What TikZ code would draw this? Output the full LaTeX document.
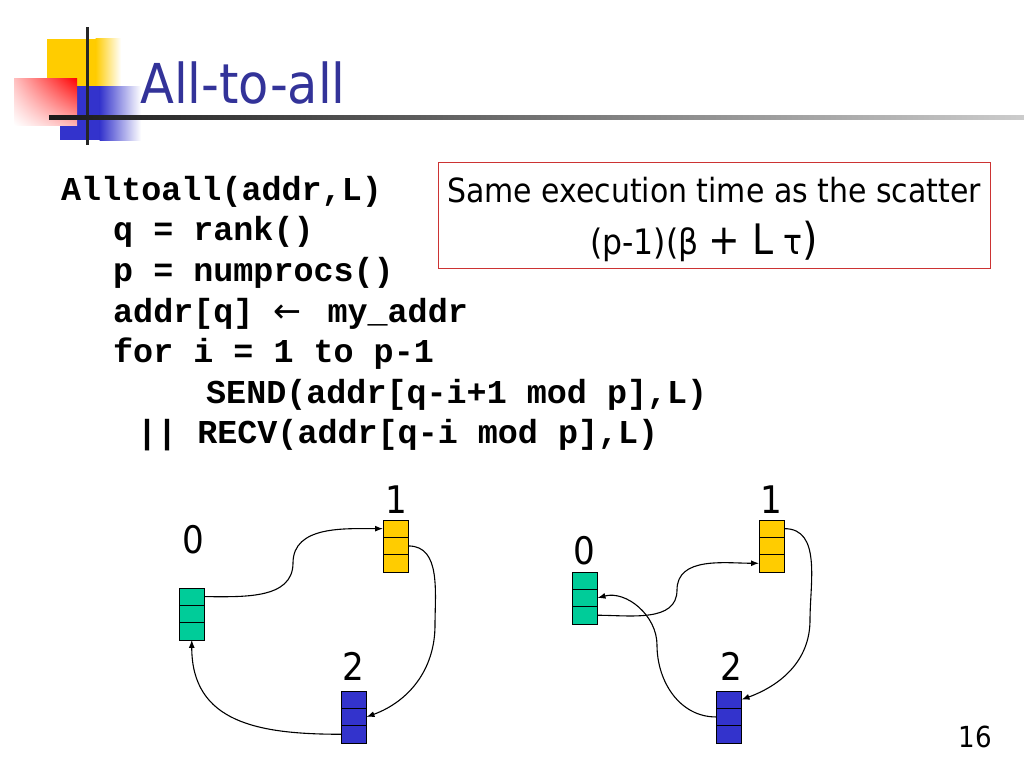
\documentclass[tikz,border=0pt]{standalone}
\usepackage{fontspec}
\setmainfont{DejaVu Sans Condensed}
\setmonofont{Liberation Mono}
\newfontfamily\arrowfont{DejaVu Sans}
\usetikzlibrary{arrows.meta,positioning,calc,shadings}
\definecolor{titleblue}{HTML}{333399}
\definecolor{boxred}{HTML}{CC3333}
\definecolor{cellgreen}{HTML}{00CC99}
\definecolor{cellyellow}{HTML}{FFCC00}
\definecolor{cellblue}{HTML}{3333CC}

\begin{document}
\begin{tikzpicture}[
    x=1pt, y=-1pt,
    cell/.style={
        draw,
        line width=0.8pt,
        minimum width=25.5pt,
        minimum height=17.3pt,
        inner sep=0pt,
        outer sep=0pt
    },
    code/.style={anchor=base west, inner sep=0pt,
        font=\fontsize{33.4}{40}\selectfont\ttfamily\bfseries},
    digit/.style={inner sep=0pt, font=\fontsize{38}{40}\selectfont},
    link/.style={line width=1.1pt, -{Latex[length=8pt,width=6pt]}}
]
\useasboundingbox (0,0) rectangle (1024,768);
\fill[white] (0,0) rectangle (1024,768);

% logo
\fill[cellyellow] (47,39) rectangle (96,87);
\shade[left color=cellyellow, right color=white] (95.5,39) rectangle (121,87);
\fill[cellblue] (60,86) rectangle (100,140);
\shade[left color=cellblue, right color=white] (99.5,86) rectangle (141,140);
\shade[upper left=red!25, upper right=red, lower left=white, lower right=red!30] (14,78) rectangle (77,125);
\fill[black!85] (86,27) rectangle (89,145);
\shade[left color=black!90, right color=black!20] (49,115) rectangle (1024,119);

\node[anchor=base west, inner sep=0pt, text=titleblue,
      font=\fontsize{55}{60}\selectfont] (title) at (140,103) {All-to-all};

% pseudo code
\node[code] (c1) at (61,200) {Alltoall(addr,L)};
\node[code] (c2) at (113,240) {q = rank()};
\node[code] (c3) at (113,281) {p = numprocs()};
\node[code] (c4) at (113,322) {addr[q] {\arrowfont\mdseries ←}\hspace{6pt} my\_addr};
\node[code] (c5) at (113,362) {for i = 1 to p-1};
\node[code] (c6) at (206,403) {SEND(addr[q-i+1 mod p],L)};
\node[code] (c7) at (137,443) {|| RECV(addr[q-i mod p],L)};

% note
\node[draw=boxred, line width=0.8pt, minimum width=552pt, minimum height=106pt,
      anchor=north west, inner sep=0pt] (note) at (438,162) {};
\node[anchor=base, inner sep=0pt, font=\fontsize{33.3}{40}\selectfont] (noteA) at (714,202)
    {Same execution time as the scatter};
\node[anchor=base, inner sep=0pt, font=\fontsize{35}{40}\selectfont] (noteB) at (704,254)
    {(p-1)(β {\fontsize{42}{42}\selectfont + L} τ{\fontsize{44}{44}\selectfont )}};

% buffers
\foreach \n/\c/\x/\y in {g1/cellgreen/179/588, y1/cellyellow/383/520, b1/cellblue/341/691,
                         g2/cellgreen/572/572, y2/cellyellow/759/520, b2/cellblue/716/691} {
    \node[cell, fill=\c, anchor=north west] (\n-1) at (\x,\y) {};
    \node[cell, fill=\c, below=0pt of \n-1] (\n-2) {};
    \node[cell, fill=\c, below=0pt of \n-2] (\n-3) {};
}

\node[digit] (l0a) at (193,540) {0};
\node[digit] (l1a) at (396,500) {1};
\node[digit] (l2a) at (353,666) {2};
\node[digit] (l0b) at (584,551) {0};
\node[digit] (l1b) at (771,500) {1};
\node[digit] (l2b) at (731,666) {2};

% first step
\coordinate (k1) at (293,563);
\coordinate (k2) at (435,625);
\draw[link] (g1-1.east) to[out=0,in=-90] (k1) to[out=90,in=180] (y1-1.west);
\draw[link] (y1-2.east) to[out=0,in=90] (k2) to[out=-90,in=20] (b1-2.east);
\draw[link] (b1-3.west) to[out=180,in=-90,looseness=1.2] (g1-3.south);

% second step
\coordinate (k3) at (677,590);
\coordinate (k4) at (810,620);
\coordinate (k5) at (657,645);
\draw[link] (g2-3.east) to[out=0,in=-90] (k3) to[out=90,in=180] (y2-3.west);
\draw[link] (y2-1.east) to[out=0,in=90] (k4) to[out=-90,in=20] (b2-1.east);
\draw[link] (b2-2.west) to[out=180,in=-90] (k5) to[out=90,in=15] (g2-2.east);

\node[inner sep=0pt, font=\fontsize{29}{30}\selectfont] (pagenum) at (975,737) {16};
\end{tikzpicture}
\end{document}
